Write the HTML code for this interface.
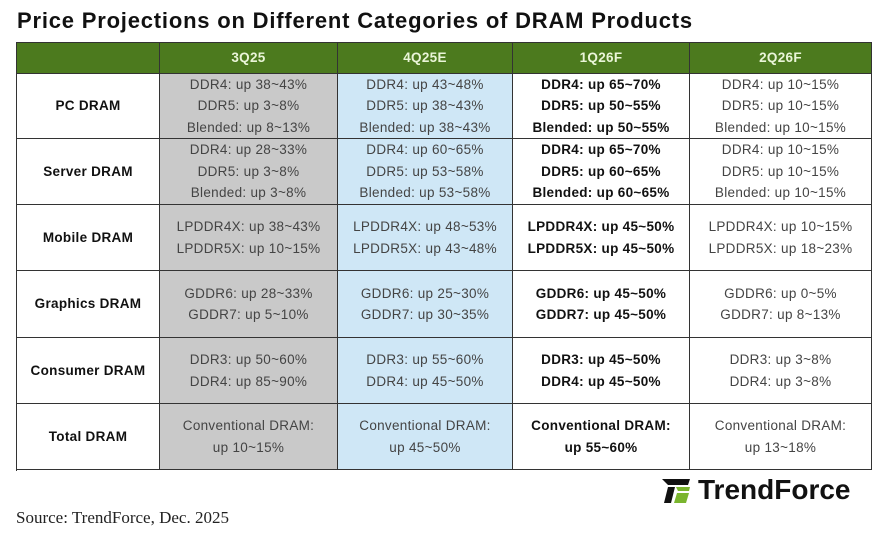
<!DOCTYPE html>
<html><head><meta charset="utf-8"><style>
body{margin:0;width:889px;height:539px;background:#fff;position:relative;overflow:hidden;font-family:"Liberation Sans",sans-serif}
.t{position:absolute;left:17px;top:8px;font-size:22px;font-weight:bold;color:#111;letter-spacing:0.8px}
.c{position:absolute;box-sizing:border-box;border-right:1.5px solid #333;border-bottom:1.5px solid #333;display:flex;flex-direction:column;justify-content:center;align-items:center;font-size:13.5px;letter-spacing:0.3px;color:#444;line-height:21.5px;text-align:center}
.h{background:#4c7a1e;color:#eaf5d8;font-weight:bold}
.b{color:#111;font-weight:bold}
.src{position:absolute;left:16px;top:508px;font-family:"Liberation Serif",serif;font-size:17px;color:#222}
.logo{position:absolute;left:662px;top:474px;font-size:28px;font-weight:bold;color:#111;display:flex;align-items:center;gap:6px}
</style></head><body>
<div class="t">Price Projections on Different Categories of DRAM Products</div>
<div id="tbl" style="position:absolute;left:16px;top:42px;width:856px;height:429px;border-left:1.5px solid #333;border-top:1.5px solid #333;box-sizing:border-box"></div>
<div class="src">Source: TrendForce, Dec. 2025</div>
<div class="logo"><svg width="30" height="26"><polygon points="0,2 28,2 26,8 6,8" fill="#111"/><polygon points="6,10 13,10 9,26 2,26" fill="#111"/><polygon points="14,10 28,10 27,14 16,14" fill="#7ab52e"/><polygon points="15,16 27,16 24,26 12,26" fill="#7ab52e"/></svg><span>TrendForce</span></div>
<script>
const colX=[17,160,338,513,690,872];
const rowY=[43,74,139,205,271,338,404,470];
const headers=["","3Q25","4Q25E","1Q26F","2Q26F"];
const rowLabels=["PC DRAM","Server DRAM","Mobile DRAM","Graphics DRAM","Consumer DRAM","Total DRAM"];
const cells=[
[["DDR4: up 38~43%","DDR5: up 3~8%","Blended: up 8~13%"],["DDR4: up 43~48%","DDR5: up 38~43%","Blended: up 38~43%"],["DDR4: up 65~70%","DDR5: up 50~55%","Blended: up 50~55%"],["DDR4: up 10~15%","DDR5: up 10~15%","Blended: up 10~15%"]],
[["DDR4: up 28~33%","DDR5: up 3~8%","Blended: up 3~8%"],["DDR4: up 60~65%","DDR5: up 53~58%","Blended: up 53~58%"],["DDR4: up 65~70%","DDR5: up 60~65%","Blended: up 60~65%"],["DDR4: up 10~15%","DDR5: up 10~15%","Blended: up 10~15%"]],
[["LPDDR4X: up 38~43%","LPDDR5X: up 10~15%"],["LPDDR4X: up 48~53%","LPDDR5X: up 43~48%"],["LPDDR4X: up 45~50%","LPDDR5X: up 45~50%"],["LPDDR4X: up 10~15%","LPDDR5X: up 18~23%"]],
[["GDDR6: up 28~33%","GDDR7: up 5~10%"],["GDDR6: up 25~30%","GDDR7: up 30~35%"],["GDDR6: up 45~50%","GDDR7: up 45~50%"],["GDDR6: up 0~5%","GDDR7: up 8~13%"]],
[["DDR3: up 50~60%","DDR4: up 85~90%"],["DDR3: up 55~60%","DDR4: up 45~50%"],["DDR3: up 45~50%","DDR4: up 45~50%"],["DDR3: up 3~8%","DDR4: up 3~8%"]],
[["Conventional DRAM:","up 10~15%"],["Conventional DRAM:","up 45~50%"],["Conventional DRAM:","up 55~60%"],["Conventional DRAM:","up 13~18%"]]
];
const colBg=["#fff","#c9c9c9","#cfe7f6","#fff","#fff"];
const body=document.body;
function cell(x0,x1,y0,y1,cls,bg,html){
  const d=document.createElement('div');
  d.className='c '+cls;
  d.style.left=x0+'px';d.style.top=y0+'px';d.style.width=(x1-x0)+'px';d.style.height=(y1-y0)+'px';
  if(bg)d.style.background=bg;
  d.innerHTML=html;body.appendChild(d);return d;
}
for(let c=0;c<5;c++){
  const d=cell(colX[c],colX[c+1],rowY[0],rowY[1],'h',null,headers[c]);
  
  
}
for(let r=0;r<6;r++){
  const y0=rowY[r+1],y1=rowY[r+2];
  const l=cell(colX[0],colX[1],y0,y1,'b',null,rowLabels[r]);
  
  
  for(let c=0;c<4;c++){
    const d=cell(colX[c+1],colX[c+2],y0,y1,c==2?'b':'',colBg[c+1],cells[r][c].map(s=>'<div>'+s+'</div>').join(''));
    
    
  }
}
</script>
</body></html>
